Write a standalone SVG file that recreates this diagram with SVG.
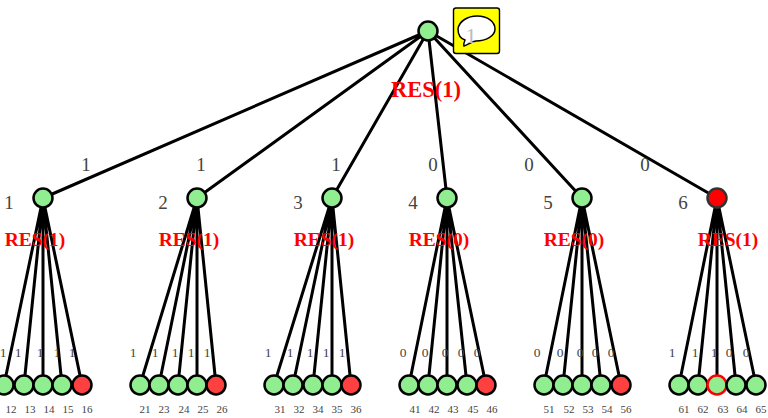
<svg xmlns="http://www.w3.org/2000/svg" width="768" height="418" viewBox="0 0 768 418">
<style>
text{font-family:"Liberation Serif","Times New Roman",serif;fill:#444}
.e{stroke:#000;stroke-width:3;fill:none}
.n{fill:#90ee90;stroke:#000;stroke-width:2.500}
.bad{fill:#ff4040}
.top{fill:#f00;stroke:#333}
.ring{stroke:#f00}
.res text{font-size:19.500px;font-weight:bold;fill:#f00;text-anchor:middle}
.res .big{font-size:22.500px}
.t{font-size:19px;text-anchor:middle}
.s{font-size:13.500px;text-anchor:middle}
.l{font-size:11px;text-anchor:middle}
</style>
<rect width="768" height="418" fill="#fff"/>
<g id="connectors" class="e">
<path d="M428 31L43 198M428 31L197 198M428 31L332 198M428 31L447 198M428 31L582 198M428 31L717 198"/>
<path d="M43 198L4 385M43 198L24 385M43 198L43 385M43 198L62 385M43 198L82 385"/>
<path d="M197 198L140 385M197 198L159 385M197 198L178 385M197 198L197 385M197 198L216 385"/>
<path d="M332 198L274 385M332 198L293 385M332 198L313 385M332 198L332 385M332 198L351 385"/>
<path d="M447 198L409 385M447 198L428 385M447 198L447 385M447 198L467 385M447 198L486 385"/>
<path d="M582 198L544 385M582 198L563 385M582 198L582 385M582 198L601 385M582 198L621 385"/>
<path d="M717 198L679 385M717 198L698 385M717 198L717 385M717 198L736 385M717 198L756 385"/>
</g>
<g id="edge-labels">
<text class="t" x="86" y="171">1</text><text class="t" x="201" y="171">1</text><text class="t" x="336" y="171">1</text><text class="t" x="433" y="171">0</text><text class="t" x="529" y="171">0</text><text class="t" x="645" y="171">0</text>
<text class="s" x="3" y="357">1</text><text class="s" x="18" y="357">1</text><text class="s" x="40" y="357">1</text><text class="s" x="57" y="357">1</text><text class="s" x="72" y="357">1</text>
<text class="s" x="133" y="357">1</text><text class="s" x="155" y="357">1</text><text class="s" x="175" y="357">1</text><text class="s" x="191" y="357">1</text><text class="s" x="207" y="357">1</text>
<text class="s" x="268" y="357">1</text><text class="s" x="290" y="357">1</text><text class="s" x="310" y="357">1</text><text class="s" x="326" y="357">1</text><text class="s" x="342" y="357">1</text>
<text class="s" x="403" y="357">0</text><text class="s" x="425" y="357">0</text><text class="s" x="445" y="357">0</text><text class="s" x="461" y="357">0</text><text class="s" x="477" y="357">0</text>
<text class="s" x="537" y="357">0</text><text class="s" x="560" y="357">0</text><text class="s" x="580" y="357">0</text><text class="s" x="595" y="357">0</text><text class="s" x="611" y="357">0</text>
<text class="s" x="672" y="357">1</text><text class="s" x="695" y="357">1</text><text class="s" x="714" y="357">1</text><text class="s" x="729" y="357">0</text><text class="s" x="746" y="357">0</text>
</g>
<g id="root"><circle class="n" cx="428" cy="31" r="9.500"/></g>
<g id="callout">
<rect x="453.500" y="8" width="46" height="45.500" rx="2.500" fill="#ff0" stroke="#000" stroke-width="1.400"/>
<path d="M464 46C463 43 465 41 465 40C459 38 458 33 458 29C459 21 468 16 477 16C488 16 495 22 495 29C495 36 486 41 476 41C472 41 468 45 464 46Z" fill="#fff" stroke="#000" stroke-width="1.500"/>
<text x="471" y="43" font-size="22" text-anchor="middle" style="fill:#bbb">1</text>
</g>
<g id="n1"><circle class="n" cx="43" cy="198" r="9.500"/><text class="t" x="9" y="209">1</text></g>
<g id="n2"><circle class="n" cx="197" cy="198" r="9.500"/><text class="t" x="163" y="209">2</text></g>
<g id="n3"><circle class="n" cx="332" cy="198" r="9.500"/><text class="t" x="298" y="209">3</text></g>
<g id="n4"><circle class="n" cx="447" cy="198" r="9.500"/><text class="t" x="413" y="209">4</text></g>
<g id="n5"><circle class="n" cx="582" cy="198" r="9.500"/><text class="t" x="548" y="209">5</text></g>
<g id="n6"><circle class="n top" cx="717" cy="198" r="9.500"/><text class="t" x="683" y="209">6</text></g>
<g id="n12"><circle class="n" cx="4" cy="385" r="9.500"/><text class="l" x="11" y="413">12</text></g>
<g id="n13"><circle class="n" cx="24" cy="385" r="9.500"/><text class="l" x="30" y="413">13</text></g>
<g id="n14"><circle class="n" cx="43" cy="385" r="9.500"/><text class="l" x="49" y="413">14</text></g>
<g id="n15"><circle class="n" cx="62" cy="385" r="9.500"/><text class="l" x="68" y="413">15</text></g>
<g id="n16"><circle class="n bad" cx="82" cy="385" r="9.500"/><text class="l" x="87" y="413">16</text></g>
<g id="n21"><circle class="n" cx="140" cy="385" r="9.500"/><text class="l" x="145" y="413">21</text></g>
<g id="n23"><circle class="n" cx="159" cy="385" r="9.500"/><text class="l" x="164" y="413">23</text></g>
<g id="n24"><circle class="n" cx="178" cy="385" r="9.500"/><text class="l" x="184" y="413">24</text></g>
<g id="n25"><circle class="n" cx="197" cy="385" r="9.500"/><text class="l" x="203" y="413">25</text></g>
<g id="n26"><circle class="n bad" cx="216" cy="385" r="9.500"/><text class="l" x="222" y="413">26</text></g>
<g id="n31"><circle class="n" cx="274" cy="385" r="9.500"/><text class="l" x="280" y="413">31</text></g>
<g id="n32"><circle class="n" cx="293" cy="385" r="9.500"/><text class="l" x="299" y="413">32</text></g>
<g id="n34"><circle class="n" cx="313" cy="385" r="9.500"/><text class="l" x="318" y="413">34</text></g>
<g id="n35"><circle class="n" cx="332" cy="385" r="9.500"/><text class="l" x="337" y="413">35</text></g>
<g id="n36"><circle class="n bad" cx="351" cy="385" r="9.500"/><text class="l" x="356" y="413">36</text></g>
<g id="n41"><circle class="n" cx="409" cy="385" r="9.500"/><text class="l" x="415" y="413">41</text></g>
<g id="n42"><circle class="n" cx="428" cy="385" r="9.500"/><text class="l" x="434" y="413">42</text></g>
<g id="n43"><circle class="n" cx="447" cy="385" r="9.500"/><text class="l" x="453" y="413">43</text></g>
<g id="n45"><circle class="n" cx="467" cy="385" r="9.500"/><text class="l" x="473" y="413">45</text></g>
<g id="n46"><circle class="n bad" cx="486" cy="385" r="9.500"/><text class="l" x="492" y="413">46</text></g>
<g id="n51"><circle class="n" cx="544" cy="385" r="9.500"/><text class="l" x="549" y="413">51</text></g>
<g id="n52"><circle class="n" cx="563" cy="385" r="9.500"/><text class="l" x="569" y="413">52</text></g>
<g id="n53"><circle class="n" cx="582" cy="385" r="9.500"/><text class="l" x="588" y="413">53</text></g>
<g id="n54"><circle class="n" cx="601" cy="385" r="9.500"/><text class="l" x="607" y="413">54</text></g>
<g id="n56"><circle class="n bad" cx="621" cy="385" r="9.500"/><text class="l" x="626" y="413">56</text></g>
<g id="n61"><circle class="n" cx="679" cy="385" r="9.500"/><text class="l" x="684" y="413">61</text></g>
<g id="n62"><circle class="n" cx="698" cy="385" r="9.500"/><text class="l" x="703" y="413">62</text></g>
<g id="n63"><circle class="n ring" cx="717" cy="385" r="9.500"/><text class="l" x="723" y="413">63</text></g>
<g id="n64"><circle class="n" cx="736" cy="385" r="9.500"/><text class="l" x="742" y="413">64</text></g>
<g id="n65"><circle class="n" cx="756" cy="385" r="9.500"/><text class="l" x="761" y="413">65</text></g>
<g id="res-labels" class="res">
<text class="big" x="426" y="97">RES(1)</text>
<text x="35" y="246">RES(1)</text><text x="189" y="246">RES(1)</text><text x="324" y="246">RES(1)</text><text x="439" y="246">RES(0)</text><text x="574" y="246">RES(0)</text><text x="728" y="246">RES(1)</text>
</g>
</svg>
